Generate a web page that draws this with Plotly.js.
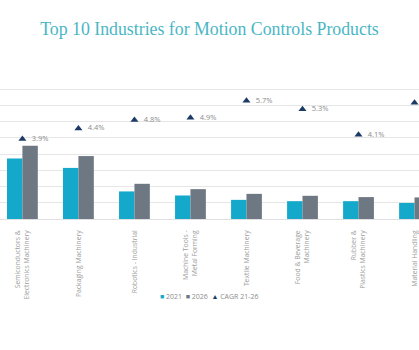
<!DOCTYPE html>
<html>
<head>
<meta charset="utf-8">
<script src="https://cdn.plot.ly/plotly-3.0.1.min.js"></script>
<style>html,body{margin:0;padding:0;background:#fff;}#chart{width:419px;height:350px;}</style>
</head>
<body>
<div id="chart"></div>
<script>
const categories = [
  "Semiconductors &<br>Electronics Machinery",
  "Packaging Machinery",
  "Robotics - Industrial",
  "Machine Tools -<br>Metal Forming",
  "Textile Machinery",
  "Food & Beverage<br>Machinery",
  "Rubber &<br>Plastics Machinery",
  "Material Handling"
];
const values2021 = [3.73, 3.15, 1.70, 1.45, 1.18, 1.10, 1.10, 0.99];
const values2026 = [4.51, 3.88, 2.17, 1.84, 1.55, 1.43, 1.35, 1.33];
const cagr = [3.9, 4.4, 4.8, 4.9, 5.7, 5.3, 4.1, 5.6];
const seriesNames = ["2021", "2026", "CAGR 21-26"];
const cagrLabels = cagr.map(v => "  " + v.toFixed(1) + "%");

const colors = {y2021: "#14a9cb", y2026: "#6e7882", cagr: "#1c3a64"};

const traces = [
  {type: "bar", name: seriesNames[0], x: categories, y: values2021,
   marker: {color: colors.y2021}, hoverinfo: "skip"},
  {type: "bar", name: seriesNames[1], x: categories, y: values2026,
   marker: {color: colors.y2026}, hoverinfo: "skip"},
  {type: "scatter", mode: "markers+text", name: seriesNames[2], x: categories, y: cagr,
   yaxis: "y2", cliponaxis: true,
   marker: {symbol: "triangle-up", size: 7, color: colors.cagr},
   text: cagrLabels, textposition: "middle right",
   textfont: {family: "Open Sans, sans-serif", size: 7.5, color: "#8c8c8c"}}
];

const legendText =
  '<span style="color:' + colors.y2021 + '">■</span> ' + seriesNames[0] + '  ' +
  '<span style="color:' + colors.y2026 + '">■</span> ' + seriesNames[1] + '  ' +
  '<span style="color:' + colors.cagr + '">▲</span> ' + seriesNames[2];

const layout = {
  width: 419, height: 350,
  margin: {l: 0, r: 0, t: 73, b: 131, pad: 0},
  paper_bgcolor: "#ffffff", plot_bgcolor: "#ffffff",
  showlegend: false,
  title: {text: "Top 10 Industries for Motion Controls Products",
          x: 0.5, xanchor: "center", y: 0.918, yanchor: "middle",
          font: {family: "Liberation Serif, serif", size: 17.8, color: "#4ab6c5"}},
  barmode: "group", bargap: 0.45, bargroupgap: 0,
  xaxis: {range: [-0.40, 7.08], tickangle: -90, showline: false, ticks: "",
          ticklabelstandoff: 9,
          tickfont: {family: "Open Sans, sans-serif", size: 6.8, color: "#a0a0a0"}},
  yaxis: {range: [0, 9], dtick: 1, showticklabels: false, gridcolor: "#e6e6e6",
          gridwidth: 1, zeroline: true, zerolinecolor: "#e0e0e0", ticks: ""},
  yaxis2: {overlaying: "y", side: "right", range: [0.15, 7.0], showgrid: false,
           showticklabels: false, zeroline: false, ticks: ""},
  annotations: [
    {xref: "paper", yref: "paper", x: 0.5, y: -0.53, xanchor: "center", yanchor: "middle",
     showarrow: false, text: legendText,
     font: {family: "Open Sans, sans-serif", size: 7, color: "#8c8c8c"}}
  ]
};

Plotly.newPlot("chart", traces, layout, {displayModeBar: false, staticPlot: true});
</script>
</body>
</html>
